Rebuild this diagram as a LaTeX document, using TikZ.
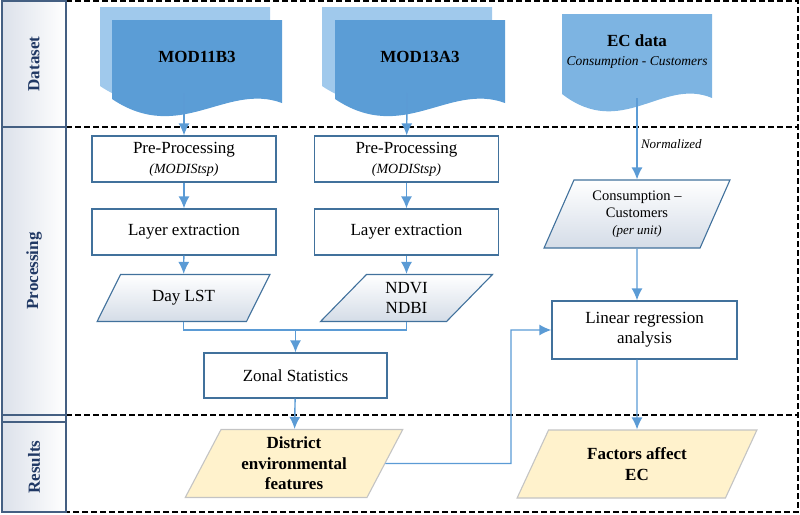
\documentclass[tikz,border=0pt]{standalone}
\usepackage{fontspec}
\setmainfont{Liberation Serif}
\usepackage{graphicx}
\usetikzlibrary{shapes.geometric,arrows.meta}

\definecolor{flowblue}{RGB}{91,155,213}
\definecolor{boxblue}{RGB}{65,113,156}
\definecolor{docfront}{RGB}{91,157,214}
\definecolor{docback}{RGB}{160,201,236}
\definecolor{docec}{RGB}{125,180,226}
\definecolor{parshade}{RGB}{212,220,231}
\definecolor{resfill}{RGB}{255,242,204}
\definecolor{resline}{RGB}{196,196,196}
\definecolor{lanetext}{RGB}{32,56,100}
\definecolor{laneline}{RGB}{68,95,130}
\definecolor{lanegray}{RGB}{220,225,234}

% document shape: x, y, width, height, colour
\newcommand{\datadoc}[5]{%
  \fill[#5] (#1,#2) -- ++(#3,0) -- ++(0,#4)
    .. controls +(-0.33*#3,-0.25*#4) and +(0.4*#3,0.55*#4) .. ++(-#3,-4) -- cycle;}

\tikzset{
  procbox/.style={draw=boxblue, line width=1.3pt, fill=white, minimum width=184pt,
    minimum height=46pt, inner sep=0pt, align=center, font=\fontsize{17}{20}\selectfont},
  datapar/.style={trapezium, trapezium left angle=52, trapezium right angle=128,
    trapezium stretches=true, draw=boxblue, line width=1.1pt, top color=white,
    bottom color=parshade, minimum width=173pt, minimum height=47pt, inner sep=0pt,
    align=center, font=\fontsize{17}{20}\selectfont},
  respar/.style={trapezium, trapezium stretches=true, draw=resline, line width=1.1pt,
    fill=resfill, minimum height=68pt, inner sep=0pt, align=center,
    font=\bfseries\fontsize{17}{20.5}\selectfont},
  flow/.style={draw=flowblue, line width=1.4pt, >={Latex[length=12pt,width=11pt]}},
  frame/.style={dash pattern=on 6pt off 3pt, line width=1.3pt},
  lane/.style={draw=laneline, line width=1.2pt, left color=lanegray, right color=white,
    minimum width=64pt, inner sep=0pt, text=lanetext,
    font=\bfseries\fontsize{17}{20}\selectfont},
  doctext/.style={align=center, font=\bfseries\fontsize{17}{20}\selectfont},
  note/.style={font=\itshape\fontsize{13}{15}\selectfont}
}

\begin{document}
\begin{tikzpicture}[x=1pt,y=-1pt]
\useasboundingbox (0,0) rectangle (800,514);

% lanes
\draw[frame] (66,1) -- (798,1) -- (798,512) -- (66,512);
\draw[frame] (66,127) -- (798,127);
\draw[frame] (66,415) -- (798,415);
\node[lane, minimum height=126pt] (dataset) at (34,64) {\rotatebox{90}{Dataset}};
\node[lane, minimum height=288pt] (processing) at (34,271) {\rotatebox{90}{Processing}};
\draw[draw=laneline, line width=1.2pt, left color=lanegray, right color=white] (2,415) rectangle (66,422);
\node[lane, minimum height=90pt] (results) at (34,467) {\rotatebox{90}{Results}};

% datasets
\datadoc{100}{7}{170}{83}{docback}
\datadoc{112}{20}{170}{83}{docfront}
\datadoc{322}{7}{170}{83}{docback}
\datadoc{335}{20}{170}{83}{docfront}
\datadoc{562}{14}{150}{84}{docec}
\node[doctext] (mod11) at (197,57) {MOD11B3};
\node[doctext] (mod13) at (420,57) {MOD13A3};
\node[doctext] (ecdata) at (637,52) {EC data\\[-1pt]{\mdseries\itshape\fontsize{13.5}{16}\selectfont Consumption - Customers}};
\coordinate (mod11out) at (184,93);
\coordinate (mod13out) at (407,93);
\coordinate (ecout) at (637,98);

% processing
\node[procbox] (pre11) at (184,159) {Pre-Processing\\{\itshape\fontsize{14}{16}\selectfont (MODIStsp)}};
\node[procbox] (lay11) at (184,232) {Layer extraction};
\node[datapar] (daylst) at (183.5,298) {Day LST};
\node[procbox] (pre13) at (406.5,159) {Pre-Processing\\{\itshape\fontsize{14}{16}\selectfont (MODIStsp)}};
\node[procbox] (lay13) at (406.5,232) {Layer extraction};
\node[datapar] (ndvi) at (406.5,298) {NDVI\\NDBI};
\coordinate (join) at (295.5,330);
\node[procbox, minimum width=183pt, minimum height=45pt] (zonal) at (295.5,375.5) {Zonal Statistics};
\node[datapar, trapezium left angle=65.5, trapezium right angle=114.5, minimum width=186pt,
  minimum height=68pt, font=\fontsize{14.5}{17}\selectfont] (cons) at (637,214)
  {Consumption --\\Customers\\{\itshape\fontsize{13}{17}\selectfont (per unit)}};
\node[procbox, minimum width=185pt, minimum height=58pt] (linreg) at (644.5,330) {Linear regression\\analysis};

% results
\node[respar, trapezium left angle=64, trapezium right angle=116, minimum width=218pt] (district) at (294,463.5) {District\\environmental\\features};
\node[respar, trapezium left angle=61.5, trapezium right angle=118.5, minimum width=240pt] (factors) at (637,464) {Factors affect\\EC};
\coordinate (bend) at (511,463.5);

% connectors
\draw[flow,->] (mod11out) -- (pre11);
\draw[flow,->] (pre11) -- (lay11);
\draw[flow,->] (lay11) -- (daylst);
\draw[flow,->] (mod13out) -- (pre13);
\draw[flow,->] (pre13) -- (lay13);
\draw[flow,->] (lay13) -- (ndvi);
\draw[flow] (daylst.center |- daylst.south) |- (join) -| (ndvi.center |- ndvi.south);
\draw[flow,->] (join) -- (zonal);
\draw[flow,->] (zonal) -- (district);
\draw[flow,->] (ecout) -- node[note, right, pos=0.57] (norm) {Normalized} (cons);
\draw[flow,->] (cons) -- (cons |- linreg.north);
\draw[flow,->] (factors |- linreg.south) -- (factors);
\draw[flow,->] (district.east) -- (bend) |- (linreg.west);
\end{tikzpicture}
\end{document}
